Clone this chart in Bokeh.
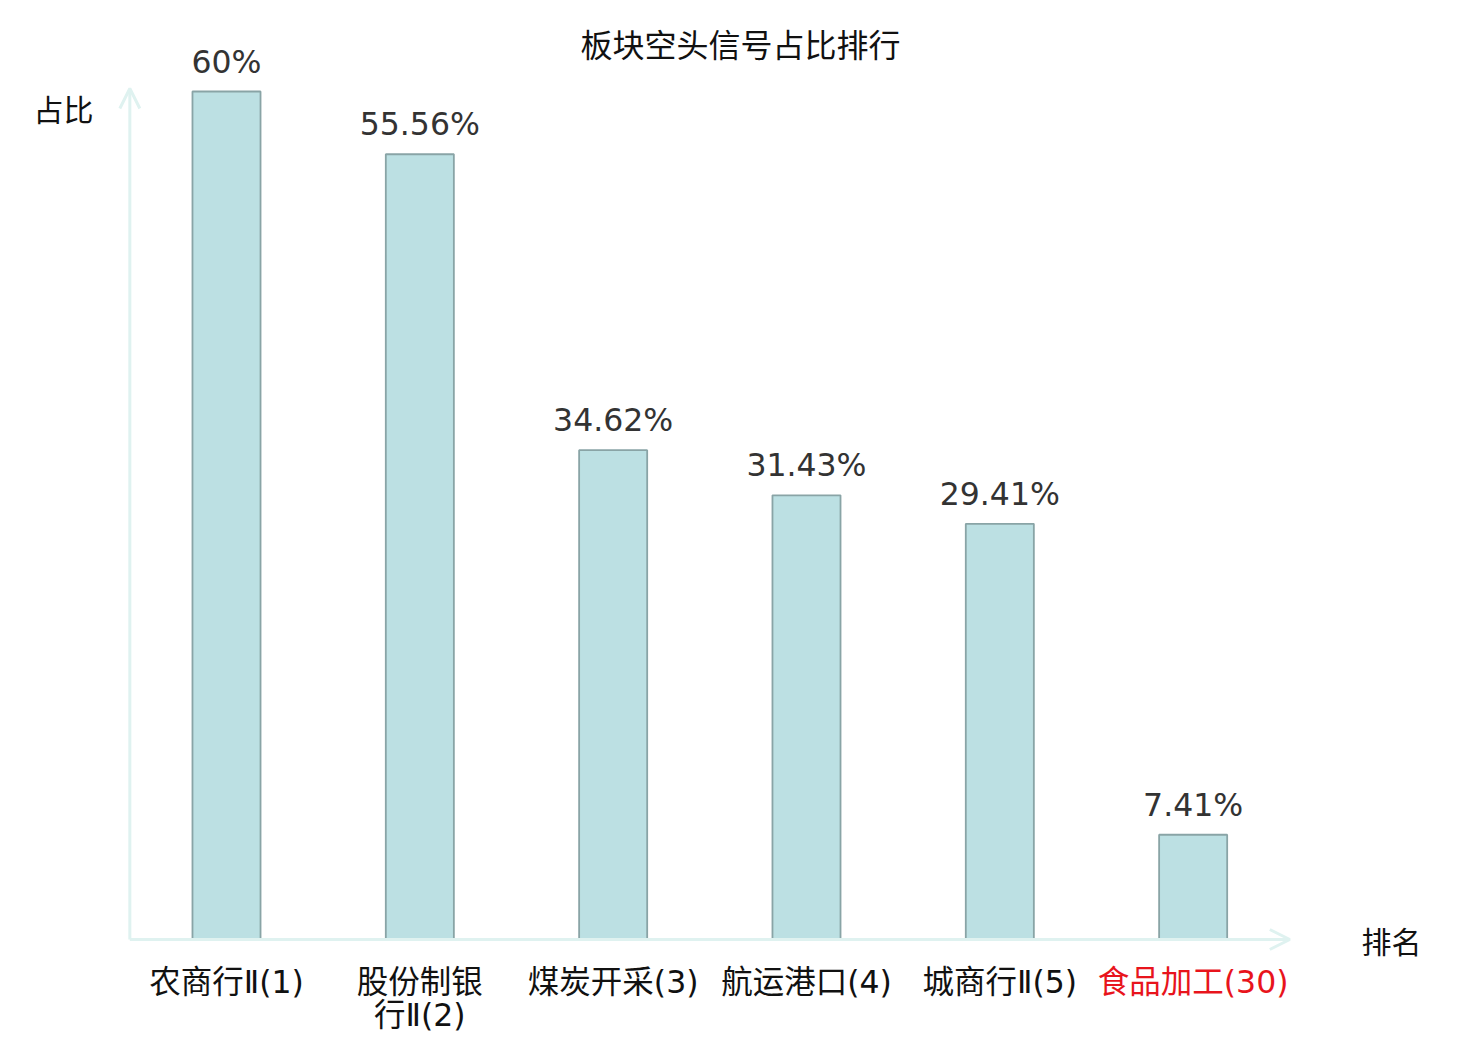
from bokeh.plotting import figure
from bokeh.models import Range1d, Arrow, OpenHead, Label, ColumnDataSource
from bokeh.core.properties import value
from bokeh.embed import file_html
from bokeh.resources import INLINE

# ---- data ----
categories = ["农商行Ⅱ(1)", "股份制银\n行Ⅱ(2)", "煤炭开采(3)", "航运港口(4)", "城商行Ⅱ(5)", "食品加工(30)"]
values = [60, 55.56, 34.62, 31.43, 29.41, 7.41]
value_labels = ["60%", "55.56%", "34.62%", "31.43%", "29.41%", "7.41%"]
label_colors = ["#111111", "#111111", "#111111", "#111111", "#111111", "#E8141C"]
title_text = "板块空头信号占比排行"
y_name = "占比"
x_name = "排名"

# ---- layout (screen geometry) ----
W, H = 1464, 1032
px_per_x = 193.33   # pixels per category
px_per_y = 14.133   # pixels per percent
x0_px = 226         # canvas px of category 0 centre
y0_px = 939         # canvas px of baseline

x_start = -x0_px / px_per_x
x_end = x_start + W / px_per_x
y_start = -(H - y0_px) / px_per_y
y_end = y_start + H / px_per_y


def dx(px):
    return x_start + px / px_per_x


def dy(py):
    return y_end - py / px_per_y


p = figure(width=W, height=H, output_backend="svg", toolbar_location=None,
           x_range=Range1d(x_start, x_end), y_range=Range1d(y_start, y_end),
           min_border=0, outline_line_color=None)
p.axis.visible = False
p.grid.visible = False
p.background_fill_color = "white"
p.border_fill_color = "white"

xs = list(range(len(categories)))
src = ColumnDataSource(dict(x=xs, top=values, lab=value_labels, cat=categories, col=label_colors))

axis_col = "#DFF2F0"
n = len(categories)
p.add_layout(Arrow(end=OpenHead(size=20, line_color=axis_col, line_width=3),
                   x_start=-0.5, y_start=0, x_end=n - 0.5, y_end=0,
                   line_color=axis_col, line_width=3))
p.add_layout(Arrow(end=OpenHead(size=20, line_color=axis_col, line_width=3),
                   x_start=-0.5, y_start=0, x_end=-0.5, y_end=dy(88),
                   line_color=axis_col, line_width=3))

p.vbar(x="x", top="top", bottom=0, width=0.352, source=src,
       fill_color="#BCE0E3", line_color="#89A4A6", line_width=1.8)

p.text(x="x", y="top", text="lab", source=src, text_align="center", text_baseline="bottom",
       y_offset=-12, text_font=value("DejaVu Sans"), text_font_size="31.5px", text_color="#333333")

p.text(x="x", y=0, text="cat", source=src, text_align="center", text_baseline="top",
       y_offset=24, text_font=value("'DejaVu Sans ExtraLight', 'DejaVu Sans', 'Noto Sans CJK SC'"),
       text_font_size="31.5px", text_color="col", text_line_height=0.93)

p.add_layout(Label(x=(x_start + x_end) / 2 + dx(740) - dx(W / 2), y=dy(42), text=title_text,
                   text_align="center", text_baseline="middle", text_font="Noto Sans CJK SC",
                   text_font_size="32px", text_color="#111111"))
p.add_layout(Label(x=dx(63), y=dy(107), text=y_name, text_align="center",
                   text_baseline="middle", text_font="Noto Sans CJK SC", text_font_size="30px",
                   text_color="#111111"))
p.add_layout(Label(x=dx(1391), y=dy(939), text=x_name, text_align="center",
                   text_baseline="middle", text_font="Noto Sans CJK SC", text_font_size="30px",
                   text_color="#111111"))

open("out.html", "w").write(file_html(p, INLINE))
